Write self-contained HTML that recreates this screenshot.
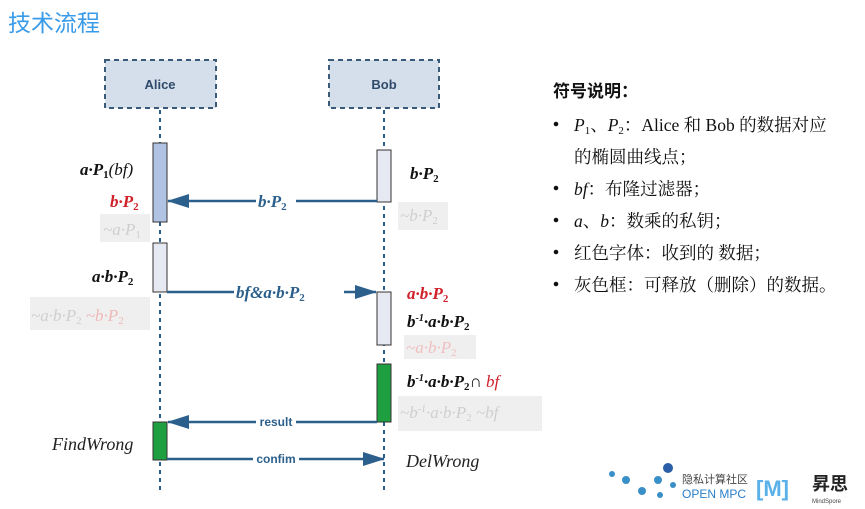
<!DOCTYPE html>
<html><head><meta charset="utf-8"><style>
body{margin:0;width:865px;height:509px;background:#fff;overflow:hidden}
svg{display:block}
.m{font-family:"Liberation Serif",serif;font-style:italic;font-weight:bold;font-size:17px}
.g{font-family:"Liberation Serif",serif;font-style:italic;font-size:17px;fill:#cfcfcf}
.c{font-family:"Liberation Serif","Noto Serif CJK SC",serif;font-size:17.5px;fill:#111}
.s{font-style:normal;font-size:11px}
</style></head><body>
<svg width="865" height="509" viewBox="0 0 865 509" xmlns="http://www.w3.org/2000/svg">
<defs>
<marker id="b" markerWidth="22" markerHeight="14" refX="21" refY="7" orient="auto" markerUnits="userSpaceOnUse"><path d="M0,0 L22,7 L0,14 z" fill="#2b5f8c"/></marker></defs>
<text x="8" y="31" font-family="Liberation Sans,'Noto Sans CJK SC',sans-serif" font-size="23" fill="#3a9be8">技术流程</text>
<rect x="105" y="60" width="111" height="48" fill="#d5dfeb" stroke="#3a5a7a" stroke-width="2" stroke-dasharray="5,4"/>
<rect x="329" y="60" width="110" height="48" fill="#d5dfeb" stroke="#3a5a7a" stroke-width="2" stroke-dasharray="5,4"/>
<text x="160" y="89" text-anchor="middle" font-family="Liberation Sans,sans-serif" font-weight="bold" font-size="13" fill="#2f4a6a">Alice</text>
<text x="384" y="89" text-anchor="middle" font-family="Liberation Sans,sans-serif" font-weight="bold" font-size="13" fill="#2f4a6a">Bob</text>
<line x1="160" y1="110" x2="160" y2="492" stroke="#2b5f8c" stroke-width="2" stroke-dasharray="4,4"/>
<line x1="384" y1="110" x2="384" y2="492" stroke="#2b5f8c" stroke-width="2" stroke-dasharray="4,4"/>
<rect x="153" y="143" width="14" height="79" fill="#b0c3e2" stroke="#333"/>
<rect x="153" y="243" width="14" height="49" fill="#e6e9f1" stroke="#333"/>
<rect x="377" y="150" width="14" height="52" fill="#e6e9f1" stroke="#333"/>
<rect x="377" y="292" width="14" height="53" fill="#e6e9f1" stroke="#333"/>
<rect x="377" y="364" width="14" height="58" fill="#1fa040" stroke="#333"/>
<rect x="153" y="422" width="14" height="38" fill="#1fa040" stroke="#333"/>
<line x1="377" y1="201" x2="168" y2="201" stroke="#2b5f8c" stroke-width="2.5" marker-end="url(#b)"/>
<line x1="167" y1="292" x2="376" y2="292" stroke="#2b5f8c" stroke-width="2.5" marker-end="url(#b)"/>
<line x1="377" y1="422" x2="168" y2="422" stroke="#2b5f8c" stroke-width="2.5" marker-end="url(#b)"/>
<line x1="167" y1="459" x2="384" y2="459" stroke="#2b5f8c" stroke-width="2.5" marker-end="url(#b)"/>
<rect x="256" y="193" width="40" height="16" fill="#fff"/>
<text x="258" y="207" class="m" fill="#2b5f8c">b·P<tspan class="s" dy="3">2</tspan></text>
<rect x="234" y="284" width="110" height="16" fill="#fff"/>
<text x="236" y="298" class="m" fill="#2b5f8c">bf&amp;a·b·P<tspan class="s" dy="3">2</tspan></text>
<rect x="256" y="415" width="40" height="14" fill="#fff"/>
<text x="276" y="426" text-anchor="middle" font-family="Liberation Sans,sans-serif" font-weight="bold" font-size="12" fill="#2b5f8c">result</text>
<rect x="253" y="452" width="46" height="14" fill="#fff"/>
<text x="276" y="463" text-anchor="middle" font-family="Liberation Sans,sans-serif" font-weight="bold" font-size="12" fill="#2b5f8c">confim</text>
<text x="80" y="175" class="m" fill="#111">a·P<tspan class="s" dy="3">1</tspan><tspan dy="-3" font-weight="normal">(bf)</tspan></text>
<text x="110" y="207" class="m" fill="#d0202a">b·P<tspan class="s" dy="3">2</tspan></text>
<rect x="100" y="214" width="50" height="28" fill="#efefef"/>
<text x="103" y="235" class="g">~a·P<tspan class="s" dy="3">1</tspan></text>
<text x="92" y="282" class="m" fill="#111">a·b·P<tspan class="s" dy="3">2</tspan></text>
<rect x="30" y="297" width="120" height="33" fill="#efefef"/>
<text x="31" y="321" class="g">~a·b·P<tspan class="s" dy="3">2</tspan><tspan dy="-3" fill="#f0b8b8"> ~b·P</tspan><tspan class="s" dy="3" fill="#f0b8b8">2</tspan></text>
<text x="410" y="179" class="m" fill="#111">b·P<tspan class="s" dy="3">2</tspan></text>
<rect x="398" y="202" width="50" height="28" fill="#efefef"/>
<text x="400" y="221" class="g">~b·P<tspan class="s" dy="3">2</tspan></text>
<text x="407" y="299" class="m" fill="#d0202a">a·b·P<tspan class="s" dy="3">2</tspan></text>
<text x="407" y="327" class="m" fill="#111">b<tspan font-size="10" dy="-6">-1</tspan><tspan dy="6">·a·b·P</tspan><tspan class="s" dy="3">2</tspan></text>
<rect x="404" y="335" width="72" height="24" fill="#efefef"/>
<text x="406" y="353" class="g" style="fill:#f0c0c0">~a·b·P<tspan class="s" dy="3">2</tspan></text>
<text x="407" y="387" class="m" fill="#111">b<tspan font-size="10" dy="-6">-1</tspan><tspan dy="6">·a·b·P</tspan><tspan class="s" dy="3">2</tspan><tspan dy="-3" font-weight="normal">∩</tspan><tspan font-weight="normal" fill="#d0202a"> bf</tspan></text>
<rect x="398" y="396" width="144" height="35" fill="#efefef"/>
<text x="400" y="418" class="g">~b<tspan font-size="10" dy="-6">-1</tspan><tspan dy="6">·a·b·P</tspan><tspan class="s" dy="3">2</tspan><tspan dy="-3">  ~bf</tspan></text>
<text x="52" y="450" font-family="Liberation Serif,serif" font-style="italic" font-size="18" fill="#222">FindWrong</text>
<text x="406" y="467" font-family="Liberation Serif,serif" font-style="italic" font-size="18" fill="#222">DelWrong</text>
<text x="553" y="97" font-family="Liberation Sans,'Noto Sans CJK SC',sans-serif" font-weight="bold" font-size="17" fill="#111">符号说明：</text>
<g fill="#111">
<circle cx="556" cy="124" r="2.3"/><circle cx="556" cy="188" r="2.3"/><circle cx="556" cy="220" r="2.3"/><circle cx="556" cy="252" r="2.3"/><circle cx="556" cy="284" r="2.3"/>
</g>
<text x="574" y="131" class="c"><tspan font-style="italic">P</tspan><tspan font-size="11" dy="3">1</tspan><tspan dy="-3">、</tspan><tspan font-style="italic">P</tspan><tspan font-size="11" dy="3">2</tspan><tspan dy="-3">：Alice 和 Bob 的数据对应</tspan></text>
<text x="574" y="163" class="c">的椭圆曲线点；</text>
<text x="574" y="195" class="c"><tspan font-style="italic">bf</tspan>：布隆过滤器；</text>
<text x="574" y="227" class="c"><tspan font-style="italic">a</tspan>、<tspan font-style="italic">b</tspan>：数乘的私钥；</text>
<text x="574" y="259" class="c">红色字体：收到的 数据；</text>
<text x="574" y="291" class="c">灰色框：可释放（删除）的数据。</text>
<g fill="#3a8fc8"><circle cx="612" cy="474" r="3"/><circle cx="626" cy="480" r="4"/><circle cx="642" cy="491" r="4"/><circle cx="658" cy="480" r="4"/><circle cx="660" cy="495" r="3"/><circle cx="673" cy="485" r="3"/><circle cx="668" cy="468" r="5" fill="#2a5fa8"/></g>
<text x="682" y="483" font-family="Liberation Sans,'Noto Sans CJK SC',sans-serif" font-size="11" fill="#444">隐私计算社区</text>
<text x="682" y="498" font-family="Liberation Sans,sans-serif" font-size="12" fill="#2a7fc8">OPEN MPC</text>
<text x="756" y="496" font-family="Liberation Sans,sans-serif" font-weight="bold" font-size="22" fill="#5ab0e8">[M]</text>
<text x="812" y="490" font-family="Liberation Sans,'Noto Sans CJK SC',sans-serif" font-weight="bold" font-size="18" fill="#222">昇思</text>
<text x="812" y="503" font-family="Liberation Sans,sans-serif" font-size="6" fill="#444">MindSpore</text>
</svg>
</body></html>
